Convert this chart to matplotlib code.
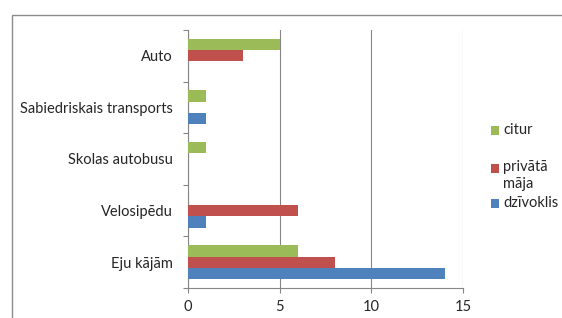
import matplotlib
matplotlib.use("Agg")
import matplotlib.pyplot as plt
from matplotlib.patches import Rectangle
import numpy as np

categories = ["Eju kājām", "Velosipēdu", "Skolas autobusu", "Sabiedriskais transports", "Auto"]
dzivoklis = [14, 1, 0, 1, 0]
privata_maja = [8, 6, 0, 0, 3]
citur = [6, 0, 1, 1, 5]
series_labels = ["dzīvoklis", "privātā\nmāja", "citur"]
x_ticks = [0, 5, 10, 15]

c_blue = "#4F81BD"
c_red = "#C0504D"
c_green = "#9BBB59"
grid_c = "#868686"
txt_c = "#262626"

plt.rcParams['font.family'] = ['Lato', 'DejaVu Sans']

fig = plt.figure(figsize=(5.62, 3.18), dpi=100)
W, H = 562, 318

# outer chart border
fig.patches.append(Rectangle((12 / W, -0.1), 1.2, (H - 15) / H + 0.1, transform=fig.transFigure,
                             fill=False, edgecolor="#8C8C8C", linewidth=1.0))

ax = fig.add_axes([188 / W, 30 / H, (463 - 188) / W, (288 - 30) / H])
y = np.arange(len(categories))
h = 0.22
ax.barh(y - h, dzivoklis, height=h, color=c_blue, edgecolor="none", zorder=3)
ax.barh(y, privata_maja, height=h, color=c_red, edgecolor="none", zorder=3)
ax.barh(y + h, citur, height=h, color=c_green, edgecolor="none", zorder=3)

fs = 10.5
ax.set_xlim(0, 15)
ax.set_ylim(-0.5, 4.5)
ax.set_xticks(x_ticks)
ax.set_xticklabels([str(v) for v in x_ticks], fontsize=fs, color=txt_c)
ax.set_yticks(y)
ax.set_yticklabels(categories, fontsize=fs, color=txt_c)
ax.set_yticks(np.arange(-0.5, 5.0, 1.0), minor=True)
ax.tick_params(axis="y", which="major", length=0, pad=11)
ax.tick_params(axis="y", which="minor", length=3.6, color=grid_c, width=0.8)
ax.tick_params(axis="x", which="major", length=3.6, color=grid_c, width=0.8, pad=5)

ax.grid(axis="x", color=grid_c, linewidth=0.8, zorder=0)
for s in ["top", "right"]:
    ax.spines[s].set_visible(False)
for s in ["left", "bottom"]:
    ax.spines[s].set_color(grid_c)
    ax.spines[s].set_linewidth(0.8)
ax.set_axisbelow(True)

# legend (manual placement)
leg_items = [(c_green, series_labels[2], 130), (c_red, series_labels[1], 168), (c_blue, series_labels[0], 203)]
for col, lab, yc in leg_items:
    fig.patches.append(Rectangle((491 / W, (H - yc - 4.5) / H), 8 / W, 9 / H,
                                 transform=fig.transFigure, facecolor=col, edgecolor="none"))
    if "\n" in lab:
        fig.text(503 / W, (H - yc + 8.5) / H, lab, fontsize=fs, color=txt_c,
                 va="top", ha="left", linespacing=1.35)
    else:
        fig.text(503 / W, (H - yc) / H, lab, fontsize=fs, color=txt_c,
                 va="center", ha="left")

fig.savefig("out.png", dpi=100)
